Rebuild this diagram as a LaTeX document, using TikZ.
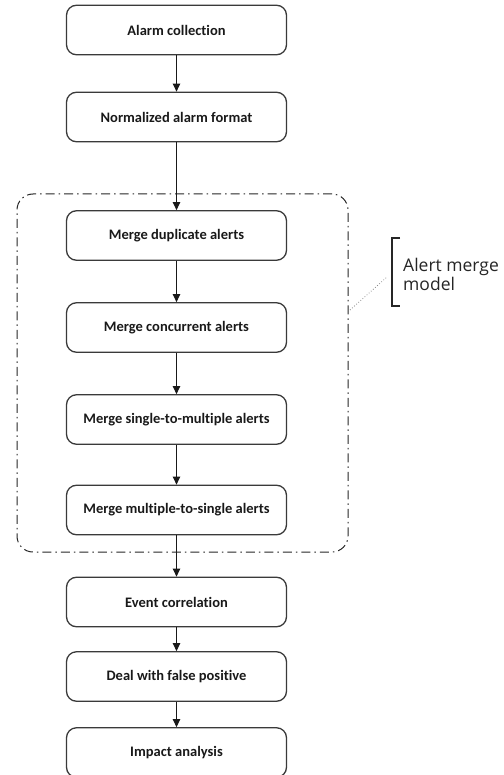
\documentclass[tikz,border=0pt]{standalone}
\usepackage{fontspec}
\setmainfont[Ligatures=NoCommon]{Carlito}
\newfontfamily\labelfont{Open Sans}
\usetikzlibrary{arrows.meta}
\definecolor{edge}{HTML}{3A3A3A}
\tikzset{
  stepbox/.style={draw=edge, line width=1.3pt, rounded corners=10pt, minimum width=220pt, minimum height=49.5pt, inner sep=0pt, font=\fontsize{14.5}{17}\selectfont\bfseries, text=black!90},
  flow/.style={draw=black!90, line width=1.1pt, -{Triangle[length=8pt,width=7.5pt]}},
  groupbox/.style={draw=black!85, line width=1pt, rounded corners=16pt, dash pattern=on 9pt off 4pt on 1.5pt off 4pt, minimum width=331pt, minimum height=358pt, inner sep=0pt}
}
\begin{document}
\begin{tikzpicture}[x=1pt,y=-1pt]
\useasboundingbox (0,0) rectangle (503,775);
\node[groupbox] (grp) at (182.5,373) {};
\node[stepbox] (b1) at (176.5,30) {Alarm collection};
\node[stepbox] (b2) at (176.5,117) {Normalized alarm format};
\node[stepbox] (b3) at (176.5,235.5) {Merge duplicate alerts};
\node[stepbox] (b4) at (176.5,327.5) {Merge concurrent alerts};
\node[stepbox] (b5) at (176.5,419.5) {Merge single-to-multiple alerts};
\node[stepbox] (b6) at (176.5,510) {Merge multiple-to-single alerts};
\node[stepbox] (b7) at (176.5,602) {Event correlation};
\node[stepbox] (b8) at (176.5,676.5) {Deal with false positive};
\node[stepbox] (b9) at (176.5,752.5) {Impact analysis};
\draw[flow] (b1) -- (b2);
\draw[flow] (b2) -- (b3);
\draw[flow] (b3) -- (b4);
\draw[flow] (b4) -- (b5);
\draw[flow] (b5) -- (b6);
\draw[flow] (b6) -- (b7);
\draw[flow] (b7) -- (b8);
\draw[flow] (b8) -- (b9);
% bracket and label
\coordinate (bt) at (400,238);
\coordinate (bb) at (400,306);
\draw[draw=black!85, line width=1.2pt] (bt) -- (392,238) -- (392,306) -- (bb);
\node[anchor=west, align=left, inner sep=0pt, font=\labelfont\fontsize{17.5}{19}\selectfont, text=black!85] (lbl) at (403,274) {Alert merge\\model};
\coordinate (d1) at (350,310);
\coordinate (d2) at (387,277);
\draw[draw=black!45, line width=0.8pt, dotted] (d1) -- (d2);
\end{tikzpicture}
\end{document}
